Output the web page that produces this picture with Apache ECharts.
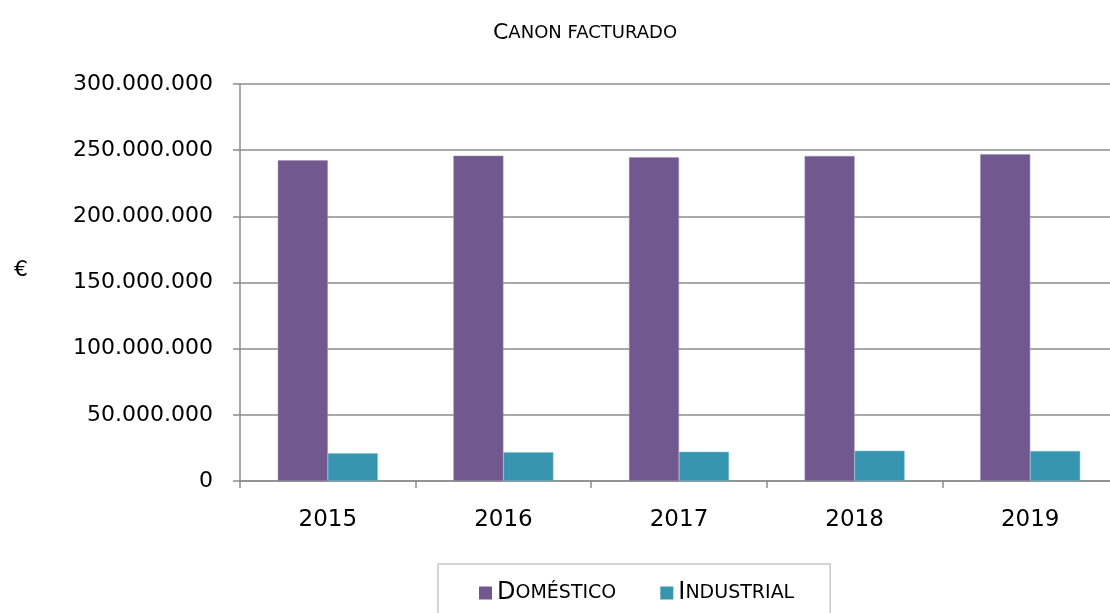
<!DOCTYPE html>
<html>
<head>
<meta charset="UTF-8">
<title>Canon facturado</title>
<script src="https://cdn.jsdelivr.net/npm/echarts@6/dist/echarts.min.js"></script>
<style>
  html, body { margin: 0; padding: 0; background: #fff; }
  #chart { width: 1110px; height: 613px; }
</style>
</head>
<body>
<div id="chart"></div>
<script>
var years = ['2015', '2016', '2017', '2018', '2019'];
var domestico = [242400000, 245800000, 244600000, 245600000, 247000000];
var industrial = [20900000, 21700000, 22100000, 22900000, 22700000];

// small caps text: first letter big, rest small
var smallCaps = {
    'Doméstico': '{a|D}{b|OMÉSTICO}',
    'Industrial': '{a|I}{b|NDUSTRIAL}'
};

var font = 'DejaVu Sans';
var chart = echarts.init(document.getElementById('chart'), null, { renderer: 'canvas' });

var option = {
    animation: false,
    title: [{
        text: '{a|C}{b|ANON FACTURADO}',
        left: 488,
        top: 17,
        textStyle: {
            fontWeight: 'normal',
            rich: {
                a: { fontFamily: font, fontSize: 22, color: '#000' },
                b: { fontFamily: font, fontSize: 18, color: '#000' }
            }
        }
    }, {
        text: '€',
        left: 9,
        top: 254,
        textStyle: { fontFamily: font, fontSize: 22, fontWeight: 'normal', color: '#000' }
    }],
    legend: {
        data: ['Doméstico', 'Industrial'],
        left: 438,
        top: 564,
        itemWidth: 13,
        itemHeight: 13,
        itemGap: 44,
        icon: 'rect',
        itemStyle: { borderWidth: 0 },
        borderColor: '#c8c8c8',
        borderWidth: 1.5,
        padding: [17, 36, 40, 41],
        formatter: function (name) { return smallCaps[name]; },
        textStyle: {
            rich: {
                a: { fontFamily: font, fontSize: 24, color: '#000' },
                b: { fontFamily: font, fontSize: 19, color: '#000' }
            }
        }
    },
    grid: { left: 240, top: 84, width: 878, height: 397, outerBoundsMode: 'none' },
    xAxis: {
        type: 'category',
        data: years,
        axisLine: { lineStyle: { color: '#8c8c8c', width: 1.5 } },
        axisTick: { show: true, length: 7, lineStyle: { color: '#8c8c8c', width: 1.5 } },
        axisLabel: { fontFamily: font, fontSize: 23, color: '#000', margin: 28 }
    },
    yAxis: {
        type: 'value',
        min: 0,
        max: 300000000,
        interval: 50000000,
        axisLine: { show: true, lineStyle: { color: '#8c8c8c', width: 1.5 } },
        axisTick: { show: true, length: 7, lineStyle: { color: '#8c8c8c', width: 1.5 } },
        splitLine: { lineStyle: { color: '#8c8c8c', width: 1.5 } },
        axisLabel: {
            fontFamily: font,
            fontSize: 22,
            color: '#000',
            margin: 27,
            formatter: function (v) {
                return String(v).replace(/\B(?=(\d{3})+(?!\d))/g, '.');
            }
        }
    },
    series: [
        {
            name: 'Doméstico',
            type: 'bar',
            data: domestico,
            barWidth: 50,
            barGap: '0%',
            itemStyle: { color: '#71588f', borderColor: '#9d8db5', borderWidth: 0.5 }
        },
        {
            name: 'Industrial',
            type: 'bar',
            data: industrial,
            barWidth: 50,
            itemStyle: { color: '#3795b0', borderColor: '#7fc0d2', borderWidth: 0.5 }
        }
    ]
};

chart.setOption(option);
</script>
</body>
</html>
